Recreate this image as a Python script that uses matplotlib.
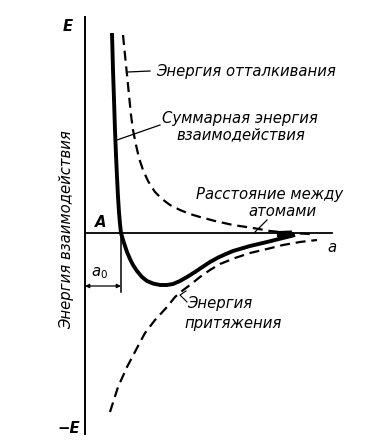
import matplotlib
matplotlib.use("Agg")
import matplotlib.pyplot as plt

# Data (distance in units of a0, energy in units of E)
sum_x = [0.75, 0.778, 0.806, 0.833, 0.861, 0.889, 0.917, 0.944, 0.972, 1.0, 1.056, 1.111, 1.167,
         1.25, 1.333, 1.444, 1.583, 1.722, 1.889, 2.083, 2.278, 2.444, 2.639, 2.833, 3.056, 3.278,
         3.472, 3.694, 3.889, 4.111, 4.583, 5.056, 5.5, 5.833]
sum_y = [1.0, 0.815, 0.665, 0.515, 0.39, 0.28, 0.18, 0.105, 0.045, 0.0, -0.035, -0.065, -0.095,
         -0.13, -0.16, -0.19, -0.22, -0.24, -0.2525, -0.26, -0.26, -0.255, -0.24, -0.22, -0.195,
         -0.168, -0.145, -0.123, -0.107, -0.09, -0.065, -0.045, -0.025, -0.01]

rep_x = [1.056, 1.111, 1.167, 1.222, 1.278, 1.333, 1.417, 1.5, 1.611, 1.75, 1.944, 2.139, 2.361,
         2.639, 2.917, 3.194, 3.611, 4.111, 4.667, 5.139, 5.694, 6.25]
rep_y = [0.99, 0.89, 0.79, 0.69, 0.59, 0.515, 0.44, 0.375, 0.315, 0.26, 0.205, 0.17, 0.14,
         0.115, 0.095, 0.08, 0.06, 0.04, 0.025, 0.01, 0.0, -0.005]

att_x = [0.694, 0.917, 1.167, 1.444, 1.667, 1.944, 2.278, 2.5, 2.694, 2.917, 3.194, 3.472, 3.75,
         4.167, 4.583, 5.056, 5.5, 5.972, 6.444]
att_y = [-0.895, -0.77, -0.67, -0.575, -0.5, -0.435, -0.37, -0.32, -0.29, -0.26, -0.22, -0.185,
         -0.155, -0.125, -0.1, -0.08, -0.06, -0.045, -0.035]

blob_x = [5.33, 5.75]
blob_y = [-0.006, -0.003]

y_label = "Энергия взаимодействия"
lbl_rep = "Энергия отталкивания"
lbl_sum = ["Суммарная энергия", "взаимодействия"]
lbl_dist = ["Расстояние между", "атомами"]
lbl_att = ["Энергия", "притяжения"]

fig = plt.figure(figsize=(3.72, 4.44), dpi=100)
ax = fig.add_axes([0, 0, 1, 1])
ax.set_xlim(-2.361, 7.972)
ax.set_ylim(-1.055, 1.165)
ax.axis("off")

fs = 10.7
tkw = dict(style="italic", fontsize=fs, family="DejaVu Sans", color="black")

# axes
ax.plot([0, 0], [-1.005, 1.08], color="black", lw=1.4)
ax.plot([0, 6.861], [0, 0], color="black", lw=1.3)

# curves
ax.plot(sum_x, sum_y, color="black", lw=2.8, solid_capstyle="butt", solid_joinstyle="round")
ax.plot(blob_x, blob_y, color="black", lw=4.5, solid_capstyle="butt")
ax.plot(rep_x, rep_y, color="black", lw=1.6, dashes=(4.5, 2.6))
ax.plot(att_x, att_y, color="black", lw=1.6, dashes=(4.5, 2.6))

# a0 marker
ax.plot([1.0, 1.0], [0, -0.295], color="black", lw=1.1)
ax.annotate("", xy=(0, -0.265), xytext=(1.0, -0.265),
            arrowprops=dict(arrowstyle="<|-|>", color="black", lw=0.9,
                            mutation_scale=6, shrinkA=0, shrinkB=0))

# axis labels
ax.text(-0.472, 1.03, "E", ha="center", va="center", fontweight="bold", **tkw)
ax.text(-0.444, -0.975, "−E", ha="center", va="center", fontweight="bold", **tkw)
ax.text(0.444, 0.055, "A", ha="center", va="center", fontweight="bold", **tkw)
ax.text(0.417, -0.2, "a$_0$", ha="center", va="center", **tkw)
ax.text(6.861, -0.07, "a", ha="center", va="center", **tkw)
ax.text(-0.5, 0.015, y_label, ha="center", va="center", rotation=90, **tkw)

# annotations
ax.text(4.472, 0.805, lbl_rep, ha="center", va="center", **tkw)
ax.plot([1.194, 1.806], [0.805, 0.81], color="black", lw=0.9)
ax.text(4.306, 0.575, lbl_sum[0], ha="center", va="center", **tkw)
ax.text(4.333, 0.49, lbl_sum[1], ha="center", va="center", **tkw)
ax.plot([0.889, 2.083], [0.465, 0.54], color="black", lw=0.9)
ax.text(5.139, 0.19, lbl_dist[0], ha="center", va="center", **tkw)
ax.text(5.472, 0.11, lbl_dist[1], ha="center", va="center", **tkw)
ax.plot([5.056, 4.722], [0.065, 0.005], color="black", lw=0.9)
ax.text(2.83, -0.35, lbl_att[0], ha="left", va="center", **tkw)
ax.text(2.75, -0.45, lbl_att[1], ha="left", va="center", **tkw)
ax.plot([2.806, 2.639, 2.833], [-0.29, -0.31, -0.345], color="black", lw=0.8)

fig.savefig("out.png", dpi=100)
